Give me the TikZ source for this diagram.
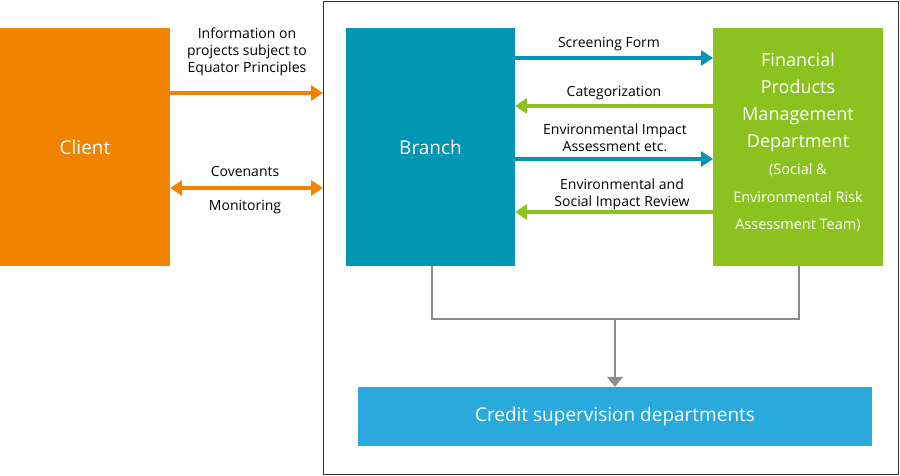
\documentclass[tikz,border=0pt]{standalone}
\usepackage{fontspec}
\setmainfont{Open Sans}
\usetikzlibrary{arrows.meta}
\definecolor{clientorange}{HTML}{F08300}
\definecolor{branchteal}{HTML}{0096B4}
\definecolor{deptgreen}{HTML}{8CC21F}
\definecolor{creditblue}{HTML}{29A9DC}
\definecolor{linegray}{HTML}{8C8C8C}
\begin{document}
\begin{tikzpicture}[x=1pt,y=-1pt]
	\tikzstyle{box}=[draw=none,inner sep=0pt,text=white,align=center]
	\tikzstyle{lbl}=[inner sep=0pt,align=center,font=\fontsize{14}{17}\selectfont]
	\tikzstyle{fat}=[line width=4pt,-{Triangle[length=12pt,width=15pt]}]
	\useasboundingbox (0,0) rectangle (900,476);
	\draw [black!80,line width=0.8pt] (323,1) rectangle (898,474);
	\node [box,fill=clientorange,minimum width=170pt,minimum height=238pt,font=\fontsize{19}{22}\selectfont] (client) at (85,147) {Client};
	\node [box,fill=branchteal,minimum width=169pt,minimum height=238pt,font=\fontsize{19}{22}\selectfont] (branch) at (430.5,147) {Branch};
	\node [box,fill=deptgreen,minimum width=170pt,minimum height=238pt] (dept) at (798,147) {};
	\node [text=white,align=center,font=\fontsize{18}{27}\selectfont,inner sep=0pt] at (798,102) {Financial\\Products\\Management\\Department};
	\node [text=white,align=center,font=\fontsize{14.5}{27.5}\selectfont,inner sep=0pt] at (798,198) {(Social \&\\Environmental Risk\\Assessment Team)};
	\node [box,fill=creditblue,minimum width=514pt,minimum height=59pt,font=\fontsize{19}{22}\selectfont] (credit) at (615,416.5) {Credit supervision departments};
	% client side
	\coordinate (frameA) at (323,93);
	\coordinate (frameB) at (323,188);
	\draw [fat,draw=clientorange,fill=clientorange] (client.east |- frameA) -- (frameA);
	\draw [fat,draw=clientorange,fill=clientorange,{Triangle[length=12pt,width=15pt]}-{Triangle[length=12pt,width=15pt]}] (client.east |- frameB) -- (frameB);
	\node [lbl] at (247,52) {Information on\\projects subject to\\Equator Principles};
	\node [lbl] at (245,172) {Covenants};
	\node [lbl] at (245,207) {Monitoring};
	% branch and department
	\draw [fat,draw=branchteal] (515,58) -- (713,58);
	\node [lbl] at (609,44) {Screening Form};
	\draw [fat,draw=deptgreen] (713,106) -- (515,106);
	\node [lbl] at (614,93) {Categorization};
	\draw [fat,draw=branchteal] (515,159) -- (713,159);
	\node [lbl] at (615,138) {Environmental Impact\\Assessment etc.};
	\draw [fat,draw=deptgreen] (713,212) -- (515,212);
	\node [lbl] at (622,194) {Environmental and\\Social Impact Review};
	% to credit supervision
	\coordinate (join) at (615,319);
	\draw [linegray,line width=1.5pt] (branch.south -| 432,0) |- (join) -| (dept.south -| 799,0);
	\draw [linegray,line width=1.5pt,-{Triangle[length=10pt,width=16pt]}] (join) -- (credit.north);
\end{tikzpicture}
\end{document}
